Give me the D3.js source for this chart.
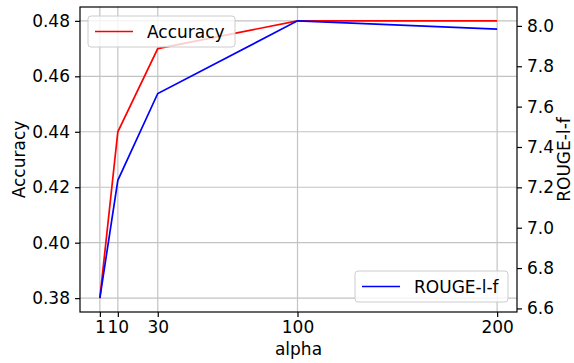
<!DOCTYPE html>
<html>
<head>
<meta charset="utf-8">
<script src="https://cdn.jsdelivr.net/npm/d3@7"></script>
<style>
  body { margin: 0; background: #fff; }
  svg { font-family: "DejaVu Sans", sans-serif; }
</style>
</head>
<body>
<svg id="chart" width="574" height="363"></svg>
<script>
var alpha = [1, 10, 30, 100, 200]
var accuracy = [0.38, 0.44, 0.47, 0.48, 0.48]
var rouge = [6.651, 7.235, 7.665, 8.025, 7.984]
var xTicks = [1, 10, 30, 100, 200]
var accTicks = [0.38, 0.40, 0.42, 0.44, 0.46, 0.48]
var rougeTicks = [6.6, 6.8, 7.0, 7.2, 7.4, 7.6, 7.8, 8.0]

var margin = {left: 80, right: 517, top: 7, bottom: 312}
var fs = 17
var svg = d3.select('#chart')

// matplotlib style 5% padding around data
function padded (vals) {
  var lo = d3.min(vals), hi = d3.max(vals), pad = (hi - lo) * 0.05
  return [lo - pad, hi + pad]
}

var x = d3.scaleLinear().domain(padded(alpha)).range([margin.left, margin.right])
var yL = d3.scaleLinear().domain(padded(accuracy)).range([margin.bottom, margin.top])
var yR = d3.scaleLinear().domain(padded(rouge)).range([margin.bottom, margin.top])

// grid
var grid = svg.append('g').attr('class', 'grid')
  .attr('stroke', '#b0b0b0').attr('stroke-width', 1.2).attr('opacity', 0.75)
grid.selectAll('line.v').data(xTicks).enter().append('line')
    .attr('x1', function (d) { return x(d) }).attr('x2', function (d) { return x(d) })
    .attr('y1', margin.top).attr('y2', margin.bottom)
grid.selectAll('line.h').data(accTicks).enter().append('line')
    .attr('y1', function (d) { return yL(d) }).attr('y2', function (d) { return yL(d) })
    .attr('x1', margin.left).attr('x2', margin.right)

var line = function (ys, scale) {
  return d3.line()
    .x(function (d, i) { return x(alpha[i]) })
    .y(function (d) { return scale(d) })(ys)
}

svg.append('path').attr('d', line(accuracy, yL))
    .attr('fill', 'none').attr('stroke', '#ff0000').attr('stroke-width', 1.7)
svg.append('path').attr('d', line(rouge, yR))
    .attr('fill', 'none').attr('stroke', '#0000ff').attr('stroke-width', 1.7)

// axes
function styleAxis (g) {
  g.selectAll('.domain').remove()
  g.selectAll('.tick line').attr('stroke', '#000').attr('stroke-width', 1.2)
  g.selectAll('.tick text').attr('font-size', fs).attr('fill', '#000')
    .attr('font-family', '"DejaVu Sans", sans-serif')
}

svg.append('g').attr('transform', 'translate(0,' + margin.bottom + ')')
  .call(d3.axisBottom(x).tickValues(xTicks).tickSize(5).tickPadding(4).tickFormat(d3.format('d')))
  .call(styleAxis)
svg.append('g').attr('transform', 'translate(' + margin.left + ',0)')
  .call(d3.axisLeft(yL).tickValues(accTicks).tickSize(5).tickPadding(5).tickFormat(d3.format('.2f')))
  .call(styleAxis)
svg.append('g').attr('transform', 'translate(' + margin.right + ',0)')
  .call(d3.axisRight(yR).tickValues(rougeTicks).tickSize(5).tickPadding(5).tickFormat(d3.format('.1f')))
  .call(styleAxis)

// spines
svg.append('rect')
    .attr('x', margin.left).attr('y', margin.top)
    .attr('width', margin.right - margin.left).attr('height', margin.bottom - margin.top)
    .attr('fill', 'none').attr('stroke', '#000').attr('stroke-width', 1.2)

// axis labels
svg.append('text').attr('x', (margin.left + margin.right) / 2).attr('y', 355)
    .attr('text-anchor', 'middle').attr('font-size', fs).text('alpha')
svg.append('text').attr('transform', 'translate(25,' + (margin.top + margin.bottom) / 2 + ') rotate(-90)')
    .attr('text-anchor', 'middle').attr('font-size', fs).text('Accuracy')
svg.append('text').attr('transform', 'translate(570,' + (margin.top + margin.bottom) / 2 + ') rotate(-90)')
    .attr('text-anchor', 'middle').attr('font-size', fs).text('ROUGE-l-f')

// legends
function legend (bx, by, w, color, label) {
  var g = svg.append('g').attr('transform', 'translate(' + bx + ',' + by + ')')
  g.append('rect').attr('width', w).attr('height', 31).attr('rx', 3)
    .attr('fill', '#fff').attr('fill-opacity', 0.8)
    .attr('stroke', '#cccccc').attr('stroke-width', 1)
  g.append('line').attr('x1', 7).attr('x2', 45).attr('y1', 15.5).attr('y2', 15.5)
    .attr('stroke', color).attr('stroke-width', 1.7)
  g.append('text').attr('x', 59).attr('y', 21.5).attr('font-size', fs).text(label)
}
legend(88, 16, 147, '#ff0000', 'Accuracy')
legend(355, 271, 153, '#0000ff', 'ROUGE-l-f')
</script>
</body>
</html>
